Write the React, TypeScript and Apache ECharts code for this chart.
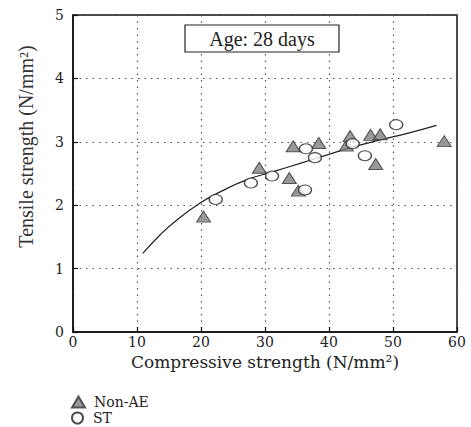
import React, { useEffect, useRef } from "react";
import * as echarts from "echarts";

const nonAE: [number, number][] = [
  [20.4, 1.82], [29.1, 2.59], [34.4, 2.93], [33.8, 2.43], [35.2, 2.23], [38.4, 2.98],
  [42.7, 2.94], [43.3, 3.09], [46.5, 3.11], [48.0, 3.12], [47.3, 2.65], [58.0, 3.01],
];
const st: [number, number][] = [
  [22.3, 2.09], [27.8, 2.35], [31.1, 2.46], [36.4, 2.89], [36.25, 2.24], [37.8, 2.75],
  [43.7, 2.97], [45.6, 2.78], [50.5, 3.27],
];
const fitCurve: [number, number][] = [
  [10.9, 1.24], [13.6, 1.53], [15.9, 1.74], [19.8, 2.03], [23.0, 2.21], [27.1, 2.4],
  [31.3, 2.53], [35.5, 2.66], [39.6, 2.79], [43.8, 2.92], [48.0, 3.03], [52.1, 3.13], [56.8, 3.26],
];

const SERIF = "'Liberation Serif', 'DejaVu Serif', serif";
const WIDE = "'DejaVu Serif', 'Liberation Serif', serif";

export default function App() {
  const ref = useRef<HTMLDivElement>(null);
  useEffect(() => {
    if (!ref.current) return;
    const chart = echarts.init(ref.current, undefined, { renderer: "svg" });
    const split = { show: true, lineStyle: { type: [1.5, 5] as any, color: "#555", width: 1.2 } };
    const legendBase = {
      orient: "vertical", left: 71, itemWidth: 13, itemHeight: 11, padding: 0,
      textStyle: { color: "#222", fontFamily: WIDE, fontSize: 14, lineHeight: 14, padding: [0, 0, 0, 4] },
    };
    chart.setOption({
      animation: false,
      backgroundColor: "#fff",
      grid: { left: 73, right: 14, top: 15, bottom: 95, show: true, borderColor: "#111", borderWidth: 1.5, backgroundColor: "transparent" },
      xAxis: {
        type: "value", min: 0, max: 60, interval: 10,
        axisLine: { show: true, lineStyle: { color: "#111", width: 1.5 } },
        axisTick: { show: true, inside: true, length: 5, lineStyle: { color: "#111", width: 1.2 } },
        axisLabel: { color: "#222", fontFamily: WIDE, fontSize: 14, margin: 3 },
        splitLine: split,
        name: "Compressive strength (N/mm²)",
        nameLocation: "middle", nameGap: 21,
        nameTextStyle: { color: "#222", fontFamily: WIDE, fontSize: 17 },
      },
      yAxis: {
        type: "value", min: 0, max: 5, interval: 1,
        axisLine: { show: true, lineStyle: { color: "#111", width: 1.5 } },
        axisTick: { show: true, inside: true, length: 5, lineStyle: { color: "#111", width: 1.2 } },
        axisLabel: { color: "#222", fontFamily: WIDE, fontSize: 14, margin: 9 },
        splitLine: split,
        name: "Tensile strength (N/mm²)",
        nameLocation: "middle", nameGap: 37,
        nameTextStyle: { color: "#333", fontFamily: SERIF, fontSize: 20, padding: [0, 0, 0, 54] },
      },
      legend: [
        { ...legendBase, top: 395, data: ["Non-AE"] },
        { ...legendBase, top: 411, data: ["ST"] },
      ],
      graphic: [
        {
          type: "group",
          children: [
            { type: "rect", shape: { x: 185, y: 25, width: 154, height: 27 }, style: { fill: "#fff", stroke: "#222", lineWidth: 1.2 }, z: 10 },
            { type: "text", x: 262, y: 38.5, style: { text: "Age: 28 days", fill: "#222", font: `20px ${SERIF}`, align: "center", verticalAlign: "middle" }, z: 11 },
          ],
        },
      ],
      series: [
        {
          name: "fit", type: "line", data: fitCurve, smooth: true, showSymbol: false, symbol: "none",
          lineStyle: { color: "#222", width: 1.2 }, z: 2, silent: true,
        },
        {
          name: "Non-AE", type: "scatter", data: nonAE, symbol: "triangle", symbolSize: [14, 11],
          itemStyle: { color: "#808080", borderColor: "#333", borderWidth: 1 }, z: 3,
        },
        {
          name: "ST", type: "scatter", data: st, symbol: "circle", symbolSize: [13, 10],
          itemStyle: { color: "#fff", borderColor: "#222", borderWidth: 1.2 }, z: 4,
        },
      ],
    });
    return () => chart.dispose();
  }, []);
  return <div ref={ref} style={{ position: "absolute", left: 0, top: 0, width: 471, height: 427 }} />;
}
